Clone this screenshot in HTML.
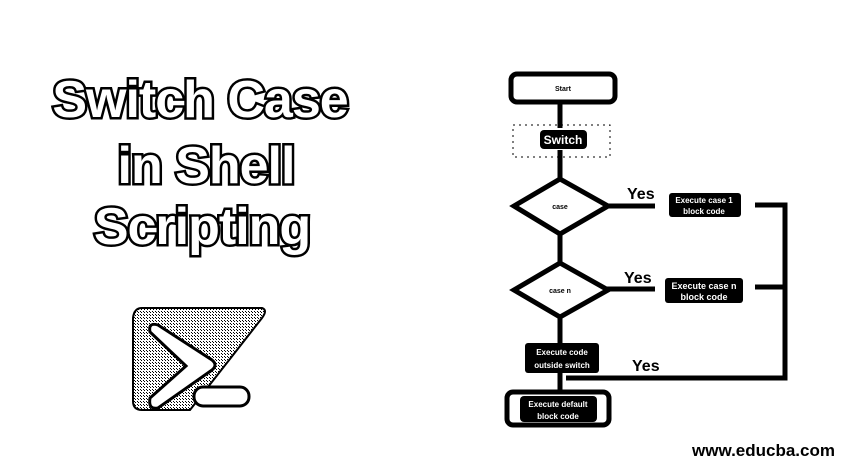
<!DOCTYPE html>
<html><head><meta charset="utf-8"><style>
html,body{margin:0;padding:0;background:#fff;}
svg{display:block;}
</style></head><body>
<svg width="851" height="474" viewBox="0 0 851 474" xmlns="http://www.w3.org/2000/svg" font-family="Liberation Sans, sans-serif">
<defs>
<pattern id="dots" width="3" height="3" patternUnits="userSpaceOnUse"><rect width="3" height="3" fill="#fff"/><rect width="1" height="1" fill="#000"/><rect x="2" y="2" width="1" height="1" fill="#000"/></pattern>
</defs>
<rect width="851" height="474" fill="#fff"/>
<!-- Title -->
<g font-weight="bold" font-size="52" fill="#fff" stroke="#000" stroke-width="5" paint-order="stroke" text-anchor="middle" letter-spacing="-1">
<text x="200" y="117">Switch Case</text>
<text x="206" y="183">in Shell</text>
<text x="202" y="244">Scripting</text>
</g>
<!-- Icon -->
<path d="M142 308 L262 308 Q268 310 262 318 L190 410 L142 410 Q133 410 133 401 L133 318 Q134 308 142 308 Z" fill="url(#dots)" stroke="#000" stroke-width="2"/>
<path d="M150 332 Q148 322 158 325 L212 360 Q218 365 212 370 L158 408 Q148 410 150 398 L186 366 Z" fill="#fff" stroke="#000" stroke-width="3"/>
<rect x="194" y="387" width="55" height="19" rx="9" fill="#fff" stroke="#000" stroke-width="3"/>
<!-- Flowchart -->
<g stroke="#000" stroke-width="5" fill="none">
<rect x="511" y="74" width="104" height="28" rx="6" fill="#fff"/>
<line x1="560" y1="102" x2="560" y2="128"/>
<line x1="560" y1="150" x2="560" y2="178"/>
<line x1="560" y1="235" x2="560" y2="262"/>
<line x1="560" y1="318" x2="560" y2="343"/>
<line x1="560" y1="372" x2="560" y2="392"/>
<polygon points="560,179 608,206 560,234 514,206" fill="#fff"/>
<polygon points="560,263 608,290 560,317 514,290" fill="#fff"/>
<line x1="607" y1="206" x2="655" y2="206"/>
<line x1="607" y1="289" x2="655" y2="289"/>
<polyline points="755,205 785,205 785,378 566,378"/>
<line x1="755" y1="287" x2="785" y2="287"/>
<rect x="507" y="392" width="102" height="33" rx="6" fill="#fff"/>
</g>
<rect x="513" y="125" width="97" height="32" fill="none" stroke="#000" stroke-width="1" stroke-dasharray="2,4"/>
<g fill="#000">
<rect x="540" y="130" width="47" height="19" rx="4"/>
<rect x="669" y="193" width="72" height="24" rx="3"/>
<rect x="665" y="278" width="78" height="25" rx="3"/>
<rect x="525" y="343" width="74" height="30" rx="3"/>
<rect x="520" y="396" width="77" height="26" rx="4"/>
</g>
<g fill="#fff" font-weight="bold" text-anchor="middle">
<text x="563" y="144" font-size="12">Switch</text>
<text x="704" y="203" font-size="8">Execute case 1</text>
<text x="704" y="214" font-size="8">block code</text>
<text x="704" y="289" font-size="9">Execute case n</text>
<text x="704" y="300" font-size="9">block code</text>
<text x="562" y="355" font-size="8">Execute code</text>
<text x="562" y="368" font-size="8">outside switch</text>
<text x="558" y="407" font-size="8">Execute default</text>
<text x="558" y="419" font-size="8">block code</text>
<text x="563" y="91" font-size="7" fill="#000">Start</text>
<text x="560" y="209" font-size="7" fill="#000">case</text>
<text x="560" y="293" font-size="7" fill="#000">case n</text>
</g>
<g font-weight="bold" font-size="16" fill="#000" stroke="#fff" stroke-width="2" paint-order="stroke">
<text x="627" y="199">Yes</text>
<text x="624" y="283">Yes</text>
<text x="632" y="371">Yes</text>
</g>
<text x="835" y="456" font-weight="bold" font-size="17" text-anchor="end" fill="#000">www.educba.com</text>
</svg>
</body></html>
